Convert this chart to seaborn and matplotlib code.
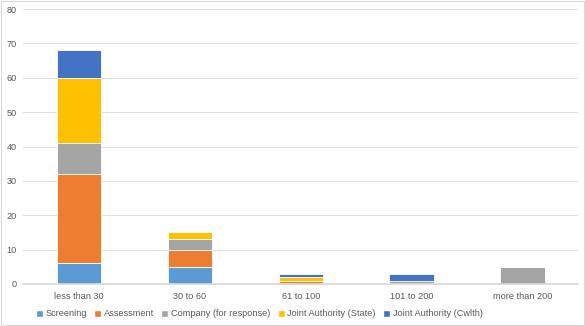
import matplotlib
matplotlib.use("Agg")
import matplotlib.pyplot as plt
import seaborn as sns
import numpy as np
import pandas as pd
from matplotlib.patches import Patch

categories = ["less than 30", "30 to 60", "61 to 100", "101 to 200", "more than 200"]
screening = [6, 5, 0, 0, 0]
assessment = [26, 5, 1, 0, 0]
company = [9, 3, 0, 1, 5]
joint_state = [19, 2, 1, 0, 0]
joint_cwlth = [8, 0, 1, 2, 0]

series_names = ["Screening", "Assessment", "Company (for response)",
                "Joint Authority (State)", "Joint Authority (Cwlth)"]
series_vals = [screening, assessment, company, joint_state, joint_cwlth]
colors = ["#5B9BD5", "#ED7D31", "#A5A5A5", "#FFC000", "#4472C4"]

sns.set_theme(style="white")
plt.rcParams['font.family'] = ['Liberation Sans', 'DejaVu Sans']

fig = plt.figure(figsize=(5.85, 3.26), dpi=100)
ax = fig.add_axes([0.04, 0.129, 0.948, 0.843])

bottom = np.zeros(len(categories))
for name, vals, col in zip(series_names, series_vals, colors):
    df = pd.DataFrame({"cat": categories, "val": vals})
    sns.barplot(data=df, x="cat", y="val", color=col, bottom=bottom, width=0.4,
                ax=ax, linewidth=0.6, edgecolor="white", saturation=1)
    bottom += np.array(vals)

ax.set_ylim(0, 80)
ax.set_yticks(range(0, 81, 10))
ax.yaxis.grid(True, color="#E0E0E0", linewidth=0.8)
ax.set_axisbelow(True)
for s in ["top", "right", "left"]:
    ax.spines[s].set_visible(False)
ax.spines["bottom"].set_color("#D9D9D9")
ax.set_xlabel("")
ax.set_ylabel("")
ax.tick_params(axis="both", length=0, labelsize=6.6, labelcolor="#595959")
ax.tick_params(axis="x", pad=6)
ax.tick_params(axis="y", pad=5)

handles = [Patch(facecolor=c, label=n) for n, c in zip(series_names, colors)]
fig.legend(handles=handles, loc="lower center", bbox_to_anchor=(0.443, -0.002), ncol=5,
           frameon=False, fontsize=6.6, labelcolor="#595959", handlelength=0.75,
           handleheight=0.75, handletextpad=0.3, columnspacing=0.8)

fig.patches.append(plt.Rectangle((0.001, 0.002), 0.997, 0.995, transform=fig.transFigure,
                                 fill=False, edgecolor="#D9D9D9", linewidth=0.8))
fig.savefig("out.png", dpi=100)
